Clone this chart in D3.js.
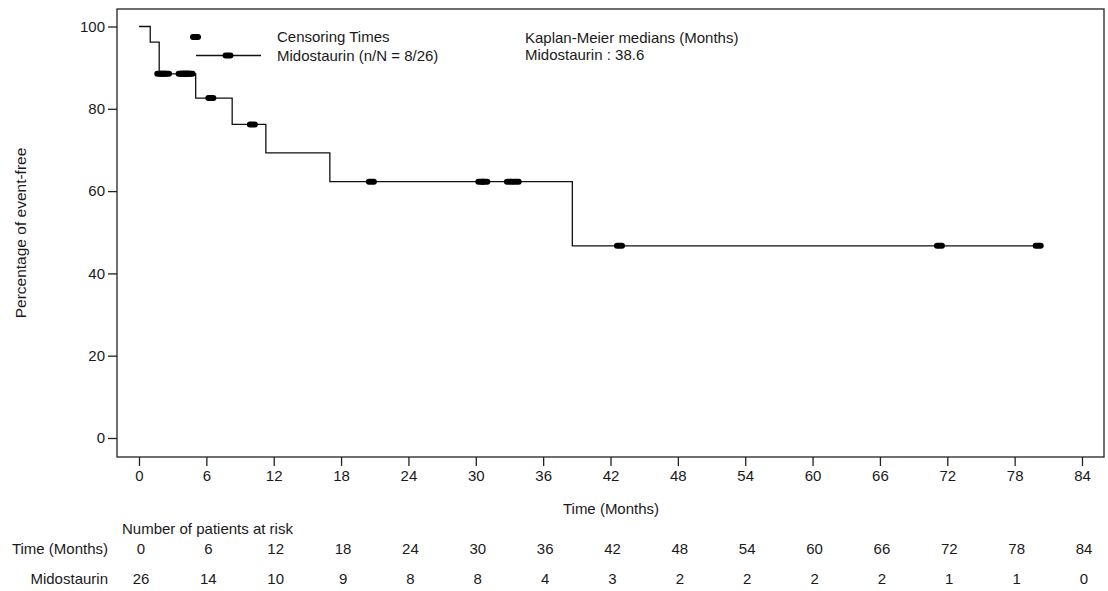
<!DOCTYPE html>
<html lang="en">
<head>
<meta charset="utf-8">
<title>Kaplan-Meier event-free</title>
<style>
  body { margin: 0; background: #fff; }
  svg text { font-family: "Liberation Sans", Arial, sans-serif; font-size: 15px; fill: #1a1a1a; }
</style>
</head>
<body>
<script src="https://cdnjs.cloudflare.com/ajax/libs/d3/7.8.5/d3.min.js"></script>
<script>
// KM step curve: time of each step (months) and percentage after it
const stepTimes = [0, 1.0, 1.8, 5.05, 8.3, 11.3, 17.0, 38.6];
const stepPct = [100, 96.2, 88.5, 82.6, 76.2, 69.3, 62.3, 46.7];
const lastTime = 80.1;

// censoring times (months)
const censorTimes = [1.85, 2.15, 2.45, 3.75, 3.95, 4.15, 4.35, 4.55, 6.4, 10.1,
  20.7, 30.45, 30.8, 33.0, 33.6, 42.8, 71.3, 80.1];

const xTicks = [0, 6, 12, 18, 24, 30, 36, 42, 48, 54, 60, 66, 72, 78, 84];
const yTicks = [0, 20, 40, 60, 80, 100];
const atRisk = [26, 14, 10, 9, 8, 8, 4, 3, 2, 2, 2, 2, 1, 1, 0];

const width = 1108, height = 591;
const frame = {left: 117, right: 1104, top: 9, bottom: 457};

const svg = d3.select('body').append('svg')
  .attr('width', width)
  .attr('height', height);

const x = d3.scaleLinear().domain([0, 84]).range([139, 1082]);
const y = d3.scaleLinear().domain([0, 100]).range([438, 26.5]);

// frame
svg.append('rect')
  .attr('x', frame.left).attr('y', frame.top)
  .attr('width', frame.right - frame.left)
  .attr('height', frame.bottom - frame.top)
  .attr('fill', 'none')
  .attr('stroke', '#222')
  .attr('stroke-width', 1.3);

const xAxis = d3.axisBottom(x).tickValues(xTicks).tickSize(9).tickPadding(4);
const xg = svg.append('g')
  .attr('transform', `translate(0, ${frame.bottom})`)
  .call(xAxis);
xg.select('.domain').remove();

const yAxis = d3.axisLeft(y).tickValues(yTicks).tickSize(9).tickPadding(3);
const yg = svg.append('g')
  .attr('transform', `translate(${frame.left}, 0)`)
  .call(yAxis);
yg.select('.domain').remove();

svg.selectAll('.tick line').attr('stroke', '#222').attr('stroke-width', 1.3);
svg.selectAll('.tick text').style('font-size', '15px').attr('fill', '#1a1a1a');

// axis titles
svg.append('text')
  .attr('x', 611).attr('y', 514)
  .attr('text-anchor', 'middle')
  .text('Time (Months)');

svg.append('text')
  .attr('transform', 'translate(26, 233) rotate(-90)')
  .attr('text-anchor', 'middle')
  .style('font-size', '15.5px')
  .text('Percentage of event-free');

// step curve
const pts = stepTimes.map((t, i) => [t, stepPct[i]]);
pts.push([lastTime, stepPct[stepPct.length - 1]]);

const line = d3.line()
  .x(d => x(d[0]))
  .y(d => y(d[1]))
  .curve(d3.curveStepAfter);

svg.append('path')
  .datum(pts)
  .attr('d', line)
  .attr('fill', 'none')
  .attr('stroke', '#111')
  .attr('stroke-width', 1.3);

// survival at a censor time from the step function
function pctAt(t) {
  let p = stepPct[0];
  stepTimes.forEach((s, i) => { if (s <= t) p = stepPct[i]; });
  return p;
}

const mw = 11, mh = 6;
svg.selectAll('.censor')
  .data(censorTimes)
  .enter()
  .append('rect')
  .attr('class', 'censor')
  .attr('x', d => x(d) - mw / 2)
  .attr('y', d => y(pctAt(d)) - mh / 2)
  .attr('width', mw)
  .attr('height', mh)
  .attr('rx', 3)
  .attr('fill', '#000');

// legend
svg.append('rect')
  .attr('x', 190).attr('y', 34).attr('width', mw).attr('height', mh)
  .attr('rx', 3).attr('fill', '#000');
svg.append('line')
  .attr('x1', 196).attr('x2', 261).attr('y1', 55.5).attr('y2', 55.5)
  .attr('stroke', '#111').attr('stroke-width', 1.3);
svg.append('rect')
  .attr('x', 222.5).attr('y', 52.5).attr('width', mw).attr('height', mh)
  .attr('rx', 3).attr('fill', '#000');

svg.append('text').attr('x', 277).attr('y', 42).text('Censoring Times');
svg.append('text').attr('x', 277).attr('y', 61).text('Midostaurin (n/N = 8/26)');

svg.append('text').attr('x', 525).attr('y', 43).text('Kaplan-Meier medians (Months)');
svg.append('text').attr('x', 525).attr('y', 60).text('Midostaurin : 38.6');

// number at risk table
svg.append('text').attr('x', 122).attr('y', 534).text('Number of patients at risk');
svg.append('text').attr('x', 108).attr('y', 554)
  .attr('text-anchor', 'end').text('Time (Months)');
svg.append('text').attr('x', 108).attr('y', 584)
  .attr('text-anchor', 'end').text('Midostaurin');

svg.selectAll('.riskTime')
  .data(xTicks)
  .enter()
  .append('text')
  .attr('class', 'riskTime')
  .attr('x', d => x(d) + 2)
  .attr('y', 554)
  .attr('text-anchor', 'middle')
  .text(d => d);

svg.selectAll('.riskN')
  .data(atRisk)
  .enter()
  .append('text')
  .attr('class', 'riskN')
  .attr('x', (d, i) => x(xTicks[i]) + 2)
  .attr('y', 584)
  .attr('text-anchor', 'middle')
  .text(d => d);
</script>
</body>
</html>
